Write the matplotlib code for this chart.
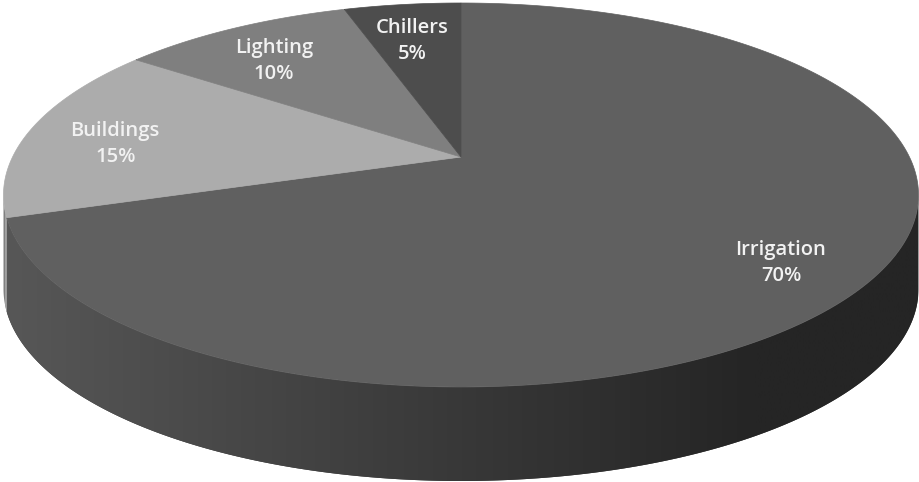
import numpy as np
import matplotlib
matplotlib.use("Agg")
import matplotlib.pyplot as plt
from matplotlib.patches import Polygon
from matplotlib.colors import LinearSegmentedColormap

# ---- data ----
labels = ["Irrigation", "Buildings", "Lighting", "Chillers"]
values = [70, 15, 10, 5]
top_colors = ["#606060", "#acacac", "#7f7f7f", "#4d4d4d"]
side_left = ["#575757", "#a2a2a2", "#707070", "#404040"]    # side shade at left edge
side_mid = ["#383838", "#808080", "#555555", "#303030"]
side_right = ["#252525", "#606060", "#404040", "#202020"]   # side shade at right

# ---- geometry (pixel space) ----
W, H = 920, 482
CX, CY = 461.0, 195.0
RX, RY = 457.5, 192.0
APEX_Y = 157.0
T = (CY - APEX_Y) / RY
DEPTH = 94.0
LABEL_R = 0.8
LABEL_DY = 10.0


def proj(x, y, dz=0.0):
    w = 1 + T * y
    xp = x * np.sqrt(1 - T ** 2) / w
    yp = (y + T) / w
    return CX + RX * xp, CY - RY * yp + dz


def disk(theta, r=1.0):
    return r * np.sin(theta), r * np.cos(theta)


fig = plt.figure(figsize=(W / 100, H / 100), dpi=100)
ax = fig.add_axes([0, 0, 1, 1])
ax.set_xlim(0, W)
ax.set_ylim(H, 0)
ax.axis("off")

total = float(sum(values))
bounds = np.concatenate([[0], np.cumsum(values)]) / total * 2 * np.pi
front_lo = np.arccos(-T)
front_hi = 2 * np.pi - front_lo

# sides: gradient image clipped to each slice's visible side band
for i in range(len(values)):
    a0, a1 = max(bounds[i], front_lo), min(bounds[i + 1], front_hi)
    if a1 <= a0:
        continue
    th = np.linspace(a0, a1, 400)
    xs, ys = disk(th)
    X, Y = proj(xs, ys)
    pts = np.column_stack([np.concatenate([X, X[::-1]]),
                           np.concatenate([Y, Y[::-1] + DEPTH])])
    poly = Polygon(pts, closed=True, facecolor=side_mid[i], edgecolor="none")
    ax.add_patch(poly)
    cmap = LinearSegmentedColormap.from_list(
        "s%d" % i, [(0.0, side_left[i]), (0.5, side_mid[i]), (0.82, side_right[i]),
                    (1.0, side_right[i])])
    grad = np.linspace(0, 1, 512)[None, :]
    im = ax.imshow(grad, cmap=cmap, extent=(5, 918, H, 0), aspect="auto",
                   interpolation="bilinear", zorder=1)
    im.set_clip_path(poly)

# tops
ox, oy = proj(0.0, 0.0)
for i in range(len(values)):
    th = np.linspace(bounds[i], bounds[i + 1], 300)
    xs, ys = disk(th)
    X, Y = proj(xs, ys)
    pts = np.column_stack([np.concatenate([[ox], X]), np.concatenate([[oy], Y])])
    ax.add_patch(Polygon(pts, closed=True, facecolor=top_colors[i],
                         edgecolor=top_colors[i], linewidth=0.5, zorder=2))

# labels
for i in range(len(values)):
    mid = 0.5 * (bounds[i] + bounds[i + 1])
    xs, ys = disk(mid, LABEL_R)
    X, Y = proj(xs, ys)
    ax.text(X, Y + LABEL_DY, f"{labels[i]}\n{values[i]}%", ha="center", va="center",
            fontsize=14.5, color="#f2f2f2", fontweight="semibold",
            family="Open Sans", linespacing=1.4, zorder=3)

ax.set_xlim(0, W)
ax.set_ylim(H, 0)
fig.savefig("out.png", dpi=100)
